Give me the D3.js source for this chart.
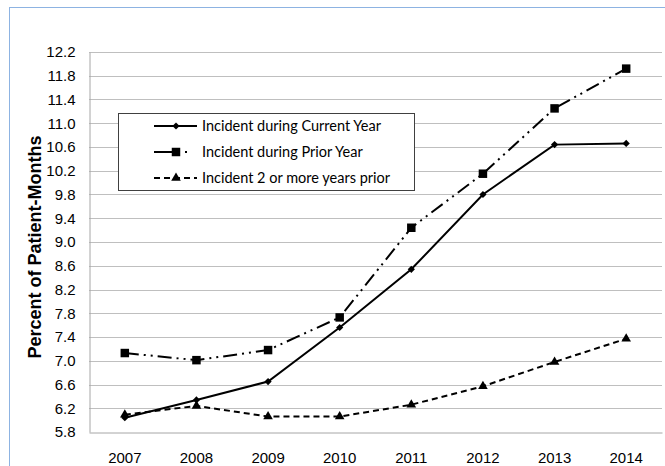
<!DOCTYPE html>
<html>
<head>
<meta charset="utf-8">
<script src="https://cdn.jsdelivr.net/npm/d3@7/dist/d3.min.js"></script>
<style>
  html, body { margin: 0; padding: 0; background: #fff; }
  svg { display: block; }
</style>
</head>
<body>
<svg id="chart" width="665" height="466"></svg>
<script>
const years = ["2007","2008","2009","2010","2011","2012","2013","2014"];
const currentYear = [6.04, 6.34, 6.65, 7.56, 8.54, 9.80, 10.64, 10.66];
const priorYear   = [7.13, 7.01, 7.18, 7.73, 9.24, 10.15, 11.25, 11.92];
const twoPlusYears = [6.09, 6.24, 6.06, 6.06, 6.26, 6.57, 6.98, 7.37];
const yTicks = [5.8, 6.2, 6.6, 7.0, 7.4, 7.8, 8.2, 8.6, 9.0, 9.4, 9.8, 10.2, 10.6, 11.0, 11.4, 11.8, 12.2];
const seriesNames = ["Incident during Current Year", "Incident during Prior Year", "Incident 2 or more years prior"];
const yTitle = "Percent of Patient-Months";

const svg = d3.select("#chart");
const plot = { left: 89, right: 662, top: 52, bottom: 432 };

// outer chart border
svg.append("rect")
  .attr("x", 9.5).attr("y", 7.5).attr("width", 700).attr("height", 500)
  .attr("fill", "#fff").attr("stroke", "#8db3e2").attr("stroke-width", 1);

const x = d3.scaleBand().domain(years).range([plot.left, plot.right]);
const y = d3.scaleLinear().domain([5.8, 12.2]).range([plot.bottom, plot.top]);
const cx = d => x(d) + x.bandwidth() / 2;

// gridlines
svg.append("g")
  .selectAll("line").data(yTicks.slice(1)).join("line")
  .attr("x1", plot.left).attr("x2", plot.right)
  .attr("y1", d => Math.round(y(d)) + 0.5).attr("y2", d => Math.round(y(d)) + 0.5)
  .attr("stroke", "#bfbfbf").attr("stroke-width", 1);

// y axis
const yAxis = svg.append("g")
  .attr("transform", `translate(${plot.left + 0.5},0)`)
  .call(d3.axisLeft(y).tickValues(yTicks).tickFormat(d3.format(".1f")).tickSize(0).tickPadding(14));
yAxis.select(".domain").attr("stroke", "#a6a6a6");
yAxis.selectAll("text").attr("font-family", "Liberation Sans, Arial, sans-serif").attr("font-size", 15).attr("fill", "#000");

// x axis
const xAxis = svg.append("g")
  .attr("transform", `translate(0,${plot.bottom + 0.5})`)
  .call(d3.axisBottom(x).tickSize(0).tickPadding(20));
xAxis.select(".domain").attr("stroke", "#a6a6a6");
xAxis.selectAll("text").attr("font-family", "Liberation Sans, Arial, sans-serif").attr("font-size", 15).attr("fill", "#000");

// y title
svg.append("text")
  .attr("transform", `translate(41,247) rotate(-90)`)
  .attr("text-anchor", "middle")
  .attr("font-family", "Liberation Sans, Arial, sans-serif")
  .attr("font-weight", "bold").attr("font-size", 18)
  .text(yTitle);

const styles = [
  { data: currentYear, dash: null, symbol: d3.symbolSquare, size: 26, rotate: 45 },
  { data: priorYear, dash: "14,5,2,5,2,5", symbol: d3.symbolSquare, size: 72, rotate: 0 },
  { data: twoPlusYears, dash: "6,4", symbol: d3.symbolTriangle, size: 40, rotate: 0 }
];

const line = d3.line().x((d, i) => cx(years[i])).y(d => y(d));

styles.forEach(s => {
  svg.append("path")
    .datum(s.data)
    .attr("d", line)
    .attr("fill", "none").attr("stroke", "#000").attr("stroke-width", 2)
    .attr("stroke-dasharray", s.dash);
  svg.append("g").selectAll("path").data(s.data).join("path")
    .attr("d", d3.symbol().type(s.symbol).size(s.size))
    .attr("transform", (d, i) => `translate(${cx(years[i])},${y(d)}) rotate(${s.rotate})`)
    .attr("fill", "#000");
});

// legend
const lg = svg.append("g");
lg.append("rect")
  .attr("x", 118.5).attr("y", 113.5).attr("width", 296).attr("height", 77)
  .attr("fill", "#fff").attr("stroke", "#404040").attr("stroke-width", 1);
const rowY = [126, 152, 178];
styles.forEach((s, i) => {
  lg.append("line")
    .attr("x1", 154).attr("x2", 197).attr("y1", rowY[i]).attr("y2", rowY[i])
    .attr("stroke", "#000").attr("stroke-width", 2)
    .attr("stroke-dasharray", i === 1 ? "22,9,2,20" : s.dash);
  lg.append("path")
    .attr("d", d3.symbol().type(s.symbol).size(s.size))
    .attr("transform", `translate(176,${rowY[i]}) rotate(${s.rotate})`)
    .attr("fill", "#000");
  lg.append("text")
    .attr("x", 202).attr("y", rowY[i]).attr("dy", "0.35em")
    .attr("font-family", "Lato, 'Open Sans', sans-serif").attr("font-size", 14.5)
    .attr("fill", "#000")
    .text(seriesNames[i]);
});
</script>
</body>
</html>
